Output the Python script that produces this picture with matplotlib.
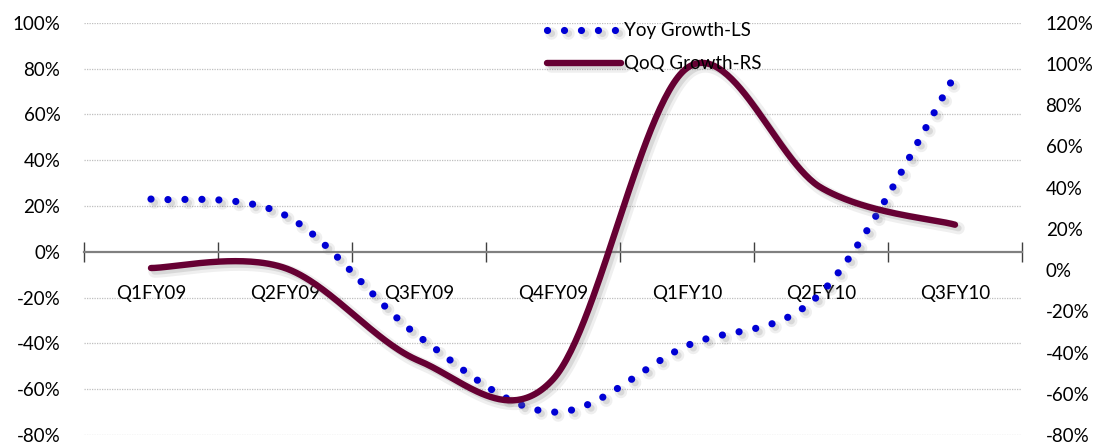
import numpy as np
import matplotlib
matplotlib.use("Agg")
import matplotlib.pyplot as plt
from matplotlib import patheffects as pe
from matplotlib.ticker import FixedLocator, FuncFormatter

# Quarterly growth figures
quarters = ["Q1FY09", "Q2FY09", "Q3FY09", "Q4FY09", "Q1FY10", "Q2FY10", "Q3FY10"]
yoy_growth = [0.23, 0.16, -0.37, -0.70, -0.41, -0.18, 0.77]   # left scale
qoq_growth = [0.01, 0.01, -0.44, -0.53, 0.98, 0.40, 0.22]     # right scale

left_ticks = [-0.8, -0.6, -0.4, -0.2, 0.0, 0.2, 0.4, 0.6, 0.8, 1.0]
right_ticks = [-0.8, -0.6, -0.4, -0.2, 0.0, 0.2, 0.4, 0.6, 0.8, 1.0, 1.2]

BLUE = "#0000D4"
MAROON = "#660033"
plt.rcParams["font.family"] = ["Lato", "DejaVu Sans"]
plt.rcParams["axes.unicode_minus"] = False
FS = 13.5


def smooth(xs, ys, steps=60):
    """Bezier smoothing through every point (Catmull-Rom tangents)."""
    x = np.asarray(xs, float)
    y = np.asarray(ys, float)
    px = np.concatenate([[x[0]], x, [x[-1]]])
    py = np.concatenate([[y[0]], y, [y[-1]]])
    t = np.linspace(0, 1, steps + 1)[1:]
    ox, oy = [x[0]], [y[0]]
    for i in range(len(x) - 1):
        p0 = np.array([px[i], py[i]])
        p1 = np.array([px[i + 1], py[i + 1]])
        p2 = np.array([px[i + 2], py[i + 2]])
        p3 = np.array([px[i + 3], py[i + 3]])
        c1 = p1 + (p2 - p0) / 6.0
        c2 = p2 - (p3 - p1) / 6.0
        b = ((1 - t) ** 3)[:, None] * p1 + (3 * (1 - t) ** 2 * t)[:, None] * c1 \
            + (3 * (1 - t) * t ** 2)[:, None] * c2 + (t ** 3)[:, None] * p2
        ox.extend(b[:, 0])
        oy.extend(b[:, 1])
    return np.array(ox), np.array(oy)


def pct(v, _pos=None):
    n = int(round(v * 100))
    return f"{n}%"


W, H = 1099, 443
fig = plt.figure(figsize=(W / 100, H / 100), dpi=100)
ax = fig.add_axes([84 / W, 8 / H, (1022 - 84) / W, (435 - 22.7) / H])
ax2 = ax.twinx()

xpos = np.arange(len(quarters)) + 0.5

shadow = [pe.SimpleLineShadow(offset=(2.5, -2.5), shadow_color="#7f7f7f", alpha=0.12, linewidth=9),
          pe.SimpleLineShadow(offset=(2.5, -2.5), shadow_color="#7f7f7f", alpha=0.2),
          pe.Normal()]

sx, sy = smooth(xpos, yoy_growth)
ax.plot(sx, sy, color=BLUE, lw=5.2, linestyle=(0, (0.001, 2.35)),
        dash_capstyle="round", label="Yoy Growth-LS", path_effects=shadow, zorder=3)

qx, qy = smooth(xpos, qoq_growth)
ax2.plot(qx, qy, color=MAROON, lw=4.6, solid_capstyle="round",
         label="QoQ Growth-RS", path_effects=shadow, zorder=3)

# scales
ax.set_xlim(0, len(quarters))
ax.set_ylim(-0.8, 1.0)
ax2.set_ylim(-0.8, 1.2)
ax.yaxis.set_major_locator(FixedLocator(left_ticks))
ax2.yaxis.set_major_locator(FixedLocator(right_ticks))
ax.yaxis.set_major_formatter(FuncFormatter(pct))
ax2.yaxis.set_major_formatter(FuncFormatter(pct))
ax.tick_params(axis="y", length=0, pad=17, labelsize=FS, colors="black")
ax2.tick_params(axis="y", length=0, pad=17, labelsize=FS, colors="black")

# dotted horizontal grid on the left scale
for v in left_ticks:
    if v != 0:
        ax.axhline(v, color="#BFBFBF", lw=0.9, linestyle=(0, (1, 1)), zorder=0)

# category axis crossing at zero
for a in (ax, ax2):
    for s in ("top", "left", "right", "bottom"):
        a.spines[s].set_visible(False)
ax.spines["bottom"].set_visible(True)
ax.spines["bottom"].set_position(("data", 0))
ax.spines["bottom"].set_color("#808080")
ax.spines["bottom"].set_linewidth(1.6)
ax.xaxis.set_major_locator(FixedLocator(np.arange(len(quarters) + 1)))
ax.xaxis.set_minor_locator(FixedLocator(xpos))
ax.set_xticklabels([], minor=False)
ax.set_xticklabels(quarters, minor=True)
ax.tick_params(axis="x", which="major", direction="inout", length=14, width=1, color="#404040")
ax.tick_params(axis="x", which="minor", length=0, pad=24, labelsize=FS)

h1, l1 = ax.get_legend_handles_labels()
h2, l2 = ax2.get_legend_handles_labels()
fig.legend(h1 + h2, l1 + l2, loc="upper left", bbox_to_anchor=(538 / W, 1 - 13 / H),
           frameon=False, fontsize=FS, handlelength=3.9, handletextpad=0.2,
           labelspacing=0.85, borderpad=0)

fig.savefig("out.png", dpi=100)
